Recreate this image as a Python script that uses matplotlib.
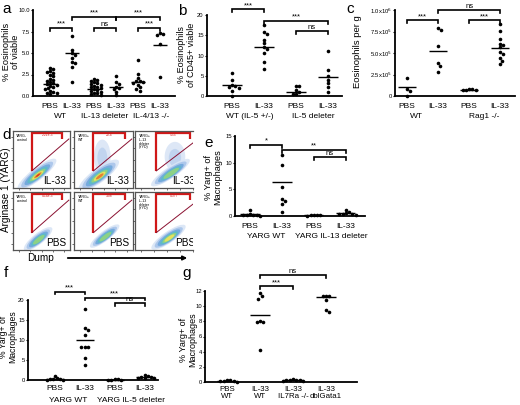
import matplotlib
matplotlib.use("Agg")
import matplotlib.pyplot as plt
import matplotlib.transforms as mtrans
from matplotlib.patches import Ellipse, Polygon
import numpy as np

plt.rcParams['font.family'] = ['Liberation Sans', 'DejaVu Sans']

W, H = 520, 405

# ---------------- data ----------------
# panel a: % eosinophils of viable
a_cats = ["PBS", "IL-33", "PBS", "IL-33", "PBS", "IL-33"]
a_groups = ["WT", "IL-13 deleter", "IL-4/13 -/-"]
a_wt_pbs = [3.3, 3.1, 2.9, 2.8, 2.7, 2.5, 2.3, 2.0, 1.9, 1.8, 1.6, 1.5, 1.4, 1.3, 1.2, 1.0, 0.9, 0.8, 0.6, 0.5, 0.4, 0.3, 0.2]
a_wt_il33 = [7.0, 5.4, 5.0, 4.8, 4.4, 3.9, 3.8, 3.4, 1.6]
a_d13_pbs = [2.0, 1.9, 1.8, 1.6, 1.5, 1.4, 1.3, 1.2, 1.1, 1.0, 0.9, 0.8, 0.7, 0.6, 0.5, 0.4, 0.3, 0.2, 0.1]
a_d13_il33 = [2.3, 1.6, 1.4, 1.1, 0.9, 0.8, 0.5, 0.1]
a_ko_pbs = [4.2, 2.6, 2.1, 1.8, 1.7, 1.6, 1.5, 1.3, 1.0, 0.8, 0.6]
a_ko_il33 = [7.3, 7.2, 7.1, 6.1, 2.2]
a_means = [1.4, 5.0, 0.8, 1.1, 1.6, 5.9]

# panel b: % eosinophils of CD45+ viable
b_cats = ["PBS", "IL-33", "PBS", "IL-33"]
b_groups = ["WT (IL-5 +/-)", "IL-5 deleter"]
b_wt_pbs = [5.7, 3.9, 2.7, 2.5, 2.2, 2.0, 1.2, 0.1]
b_wt_il33 = [17.5, 15.7, 15.2, 13.8, 13.0, 12.1, 11.5, 10.7, 8.4, 6.6]
b_del_pbs = [2.4, 2.4, 1.4, 1.0, 0.6, 0.4]
b_del_il33 = [11.2, 6.4, 4.9, 3.9, 3.1, 2.1, 1.0]
b_means = [2.6, 12.0, 1.1, 4.6]

# panel c: eosinophils per g (x1e5)
c_cats = ["PBS", "IL-33", "PBS", "IL-33"]
c_groups = ["WT", "Rag1 -/-"]
c_wt_pbs = [2.1, 0.85, 0.6, 0.05]
c_wt_il33 = [7.9, 7.7, 5.8, 3.8, 3.5, 2.8]
c_rag_pbs = [0.85, 0.85, 0.75, 0.65, 0.75]
c_rag_il33 = [8.4, 7.6, 6.6, 6.1, 5.9, 5.7, 5.1, 4.9, 4.4, 4.1, 3.7]
c_means = [1.0, 5.2, 0.65, 5.6]
c_ticks = [0, 2.5, 5.0, 7.5, 10.0]
c_ticklabels = ["0", "2.5x10$^5$", "5.0x10$^5$", "7.5x10$^5$", "1.0x10$^6$"]

# panel d: flow plots
d_titles = ["YARG-\ncontrol", "YARG+\nWT", "YARG+\nIL-13\ndeleter\n(YYD)"]
d_rows = ["IL-33", "PBS"]
d_pcts = [["2.21e-3", "20.4", "5.55"], ["0.14e-3", "3.08", "0.377"]]

# panel e: % Yarg+ of macrophages
e_cats = ["PBS", "IL-33", "PBS", "IL-33"]
e_groups = ["YARG WT", "YARG IL-13 deleter"]
e_wt_pbs = [1.1, 0.3, 0.2, 0.2, 0.1, 0.1, 0.05]
e_wt_il33 = [11.4, 9.5, 5.4, 3.2, 2.8, 2.2, 0.8]
e_del_pbs = [0.2, 0.15, 0.1, 0.1, 0.05]
e_del_il33 = [1.1, 0.7, 0.5, 0.4, 0.3, 0.3, 0.2]
e_means = [0.3, 6.3, 0.1, 0.5]

# panel f
f_cats = ["PBS", "IL-33", "PBS", "IL-33"]
f_groups = ["YARG WT", "YARG IL-5 deleter"]
f_wt_pbs = [1.1, 0.4, 0.3, 0.2, 0.2, 0.1, 0.1]
f_wt_il33 = [17.8, 12.9, 12.5, 11.3, 8.2, 8.2, 8.2, 5.4, 3.8]
f_del_pbs = [0.2, 0.15, 0.1, 0.1, 0.1]
f_del_il33 = [1.2, 0.9, 0.8, 0.7, 0.6, 0.5, 0.4]
f_means = [0.3, 10.0, 0.1, 0.7]

# panel g
g_cats = ["PBS\nWT", "IL-33\nWT", "IL-33\nIL7Ra -/-", "IL-33\ndblGata1"]
g_wt_pbs = [0.3, 0.2, 0.15, 0.1, 0.1, 0.05]
g_wt_il33 = [11.7, 11.3, 11.0, 8.0, 7.9, 7.9, 4.2]
g_il7_il33 = [0.4, 0.3, 0.3, 0.2, 0.2, 0.15, 0.1]
g_gata_il33 = [11.4, 11.3, 11.3, 10.8, 9.5, 9.2]
g_means = [0.15, 8.9, 0.25, 11.2]

# ---------------- helpers ----------------
fig = plt.figure(figsize=(W / 100, H / 100), dpi=100)
pxT = mtrans.Affine2D().scale(1 / W, -1 / H).translate(0, 1) + fig.transFigure
CAT_FS = 6.0


def axpx(l, t, r, b):
    return fig.add_axes([l / W, 1 - b / H, (r - l) / W, (b - t) / H])


def swarm(vals, dx, dy):
    placed = []
    xs = []
    cands = [0]
    for i in range(1, 14):
        cands += [i * 0.5, -i * 0.5]
    for v in vals:
        for c in cands:
            ok = True
            for (px, py) in placed:
                if ((c * dx - px) / dx) ** 2 + ((v - py) / dy) ** 2 < 0.85:
                    ok = False
                    break
            if ok:
                break
        placed.append((c * dx, v))
        xs.append(c * dx)
    return xs


def dotpanel(rect, xlim, ylim, groups, means, yticks, yticklabels):
    l, t, r, b = rect
    ax = axpx(l, t, r, b)
    ax.set_xlim(*xlim)
    ax.set_ylim(*ylim)
    ppx = (xlim[1] - xlim[0]) / (r - l)
    ppy = (ylim[1] - ylim[0]) / (b - t)
    d = 3.3
    for i, vals in enumerate(groups):
        offs = swarm(vals, d * ppx, d * ppy)
        ax.plot([i + o for o in offs], vals, 'o', color='black', ms=2.6,
                mec='none', clip_on=False, zorder=3)
        ax.plot([i - 0.3, i + 0.3], [means[i], means[i]], color='black', lw=1.0,
                solid_capstyle='butt', clip_on=False, zorder=4)
    for s in ['top', 'right']:
        ax.spines[s].set_visible(False)
    for s in ['left', 'bottom']:
        ax.spines[s].set_linewidth(1.3)
    ax.set_xticks([])
    ax.set_yticks(yticks)
    ax.set_yticklabels(yticklabels, fontsize=4.2)
    ax.tick_params(axis='y', length=1.8, width=0.8, pad=0.6)
    ax.set_facecolor('none')
    return ax


def bracket(ax, x1, x2, y, text, h, fs=5.5):
    ax.plot([x1, x1, x2, x2], [y - h, y, y, y - h], color='black', lw=1.2,
            clip_on=False, solid_joinstyle='miter')
    ax.text((x1 + x2) / 2, y + h * 0.1, text, ha='center', va='bottom',
            fontsize=fs, clip_on=False)


def xlabels(ax, cats, ycat, groups=None, gpos=None, ygrp=None, fs=CAT_FS):
    tr = mtrans.blended_transform_factory(ax.transData, pxT)
    for i, c in enumerate(cats):
        ax.text(i, ycat, c, transform=tr, ha='center', va='center', fontsize=fs,
                linespacing=1.1)
    if groups:
        for g, x in zip(groups, gpos):
            ax.text(x, ygrp, g, transform=tr, ha='center', va='center', fontsize=fs)


def ylab(x, y, s, fs=6.8):
    fig.text(x / W, 1 - y / H, s, rotation=90, ha='center', va='center',
             fontsize=fs, linespacing=1.0)


def letter(x, y, s):
    fig.text(x / W, 1 - y / H, s, ha='left', va='center', fontsize=11)


# ---------------- panel a ----------------
axa = dotpanel((33, 10, 175, 96), (-0.77, 5.68), (0, 10),
               [a_wt_pbs, a_wt_il33, a_d13_pbs, a_d13_il33, a_ko_pbs, a_ko_il33],
               a_means, [0, 2.5, 5, 7.5, 10], ["0.0", "2.5", "5.0", "7.5", "10.0"])
bracket(axa, 0, 1, 7.9, "***", 0.35)
bracket(axa, 1, 3, 9.2, "***", 0.35)
bracket(axa, 3, 5, 9.2, "***", 0.35)
bracket(axa, 2, 3, 7.9, "ns", 0.35)
bracket(axa, 4, 5, 7.9, "***", 0.35)
xlabels(axa, a_cats, 107, a_groups, [0.5, 2.5, 4.6], 117)
ylab(11, 52, "% Eosinophils\nof viable", fs=6.6)
letter(2, 9, "a")

# ---------------- panel b ----------------
axb = dotpanel((207, 15, 342, 96), (-0.78, 3.44), (0, 20),
               [b_wt_pbs, b_wt_il33, b_del_pbs, b_del_il33],
               b_means, [0, 5, 10, 15, 20], ["0", "5", "10", "15", "20"])
bracket(axb, 0, 1, 21.4, "***", 0.7)
bracket(axb, 1, 3, 18.5, "***", 0.7)
bracket(axb, 2, 3, 16.0, "ns", 0.7)
xlabels(axb, b_cats, 107, b_groups, [0.55, 2.55], 117)
ylab(186.5, 55, "% Eosinophils\nof CD45+ viable", fs=6.5)
letter(178, 11, "b")

# ---------------- panel c ----------------
axc = dotpanel((395, 10, 515, 96), (-0.39, 3.48), (0, 10),
               [c_wt_pbs, c_wt_il33, c_rag_pbs, c_rag_il33],
               c_means, c_ticks, c_ticklabels)
bracket(axc, 0, 1, 8.8, "***", 0.35)
bracket(axc, 1, 3, 10.0, "ns", 0.35)
bracket(axc, 2, 3, 8.8, "***", 0.35)
xlabels(axc, c_cats, 107, c_groups, [0.3, 2.5], 117)
ylab(358, 52, "Eosinophils per g")
letter(346, 9, "c")

# ---------------- panel d ----------------
cells_x = [(13, 70), (74, 133), (135, 193)]
cells_y = [(131, 188), (192, 250)]
layer_cols = ['#d9e5f6', '#a8c4ea', '#6fa7dc', '#5cbcc6', '#93d47e', '#efe35a', '#e8752e', '#d42a1c']
layer_scl = [1.0, 0.82, 0.66, 0.52, 0.40, 0.29, 0.19, 0.10]
# blob: (cx, cy, length, width, n_layers)
d_blobs = [
    [(0.42, 0.24, 0.85, 0.22, 8), (0.42, 0.22, 0.85, 0.25, 7), (0.55, 0.27, 0.75, 0.19, 5)],
    [(0.44, 0.19, 0.62, 0.19, 5), (0.52, 0.24, 0.62, 0.17, 5), (0.52, 0.22, 0.66, 0.19, 6)],
]
d_clouds = [[None, (0.48, 0.55, 0.28, 0.60), (0.62, 0.55, 0.32, 0.52)],
            [None, None, None]]
for ri, (t, b) in enumerate(cells_y):
    for ci, (l, r) in enumerate(cells_x):
        ax = axpx(l, t, r, b)
        ax.set_ylim(0, 1)
        ax.set_xlim(0, 1 if ci < 2 else 0.78)
        ax.set_xticks([0.1, 0.3, 0.5, 0.7, 0.9])
        ax.set_yticks([0.1, 0.3, 0.5, 0.7, 0.9])
        ax.set_xticklabels([])
        ax.set_yticklabels([])
        ax.tick_params(length=1.5, width=0.5, color='#333333')
        for s in ax.spines.values():
            s.set_color('#555555')
            s.set_linewidth(0.9)
        if ci == 2:
            ax.spines['right'].set_visible(False)
        cl = d_clouds[ri][ci]
        if cl is not None:
            ax.add_patch(Ellipse((cl[0], cl[1]), cl[2], cl[3], angle=0,
                                 color='#bcd0ee', alpha=0.5, lw=0))
            ax.add_patch(Ellipse((cl[0], cl[1] - 0.02), cl[2] * 0.6, cl[3] * 0.6,
                                 angle=0, color='#8fb3e3', alpha=0.35, lw=0))
        cx, cy, L, Wd, n = d_blobs[ri][ci]
        for k in range(n):
            s = layer_scl[k]
            ax.add_patch(Ellipse((cx + (1 - s) * 0.02, cy - (1 - s) * 0.02), L * s, Wd * s,
                                 angle=38, color=layer_cols[k], alpha=0.9, lw=0))
        ax.add_patch(Polygon([(0.33, 0.30), (0.33, 0.96), (0.86, 0.96), (0.86, 0.86)],
                             closed=False, fill=False, ec='#d01818', lw=1.6))
        ax.plot([0.33, 0.98], [0.30, 0.86], color='#8a1030', lw=0.7)
        ax.text(0.06, 0.95, d_titles[ci], fontsize=2.6, va='top', ha='left',
                linespacing=0.95)
        ax.text(0.60, 0.93, d_pcts[ri][ci], fontsize=2.4, va='center', ha='center',
                color='#d01818')
        ax.text(0.93, 0.04, d_rows[ri], fontsize=7.2, va='bottom', ha='right',
                clip_on=True)
fig.text(6 / W, 1 - 190 / H, "Arginase 1 (YARG)", rotation=90, ha='center',
         va='center', fontsize=7.2)
fig.text(40 / W, 1 - 258 / H, "Dump", ha='center', va='center', fontsize=7.2)
fig.add_artist(matplotlib.patches.FancyArrowPatch(
    (65 / W, 1 - 258 / H), (190 / W, 1 - 258 / H), transform=fig.transFigure,
    arrowstyle='-|>', mutation_scale=6, lw=1.3, color='black'))
letter(2, 135, "d")

# ---------------- panel e ----------------
axe = dotpanel((235, 136, 365, 216), (-0.47, 3.6), (0, 15),
               [e_wt_pbs, e_wt_il33, e_del_pbs, e_del_il33],
               e_means, [0, 5, 10, 15], ["0", "5", "10", "15"])
bracket(axe, 0, 1, 13.3, "*", 0.55)
bracket(axe, 1, 3, 12.4, "**", 0.55)
bracket(axe, 2, 3, 11.1, "ns", 0.55)
xlabels(axe, e_cats, 226, e_groups, [0.5, 2.55], 236)
ylab(213, 177, "% Yarg+ of\nMacrophages", fs=6.6)
letter(204, 143, "e")

# ---------------- panel f ----------------
axf = dotpanel((28, 300, 158, 380), (-0.9, 3.45), (0, 20),
               [f_wt_pbs, f_wt_il33, f_del_pbs, f_del_il33],
               f_means, [0, 5, 10, 15, 20], ["0", "5", "10", "15", "20"])
bracket(axf, 0, 1, 22.1, "***", 0.7)
bracket(axf, 1, 3, 20.6, "***", 0.7)
bracket(axf, 2, 3, 19.2, "ns", 0.7)
xlabels(axf, f_cats, 389, f_groups, [0.45, 2.55], 400)
ylab(8, 337, "% Yarg+ of\nMacrophages", fs=6.2)
letter(4, 273, "f")

# ---------------- panel g ----------------
axg = dotpanel((205, 291, 357, 382), (-0.67, 3.94), (0, 12),
               [g_wt_pbs, g_wt_il33, g_il7_il33, g_gata_il33],
               g_means, [0, 2, 4, 6, 8, 10, 12], ["0", "2", "4", "6", "8", "10", "12"])
bracket(axg, 1, 2, 12.6, "***", 0.4)
bracket(axg, 1, 3, 14.1, "ns", 0.4)
xlabels(axg, g_cats, 393, fs=5.7)
ylab(188, 340, "% Yarg+ of\nMacrophages", fs=6.5)
letter(182, 273, "g")

fig.savefig("out.png", dpi=100)
